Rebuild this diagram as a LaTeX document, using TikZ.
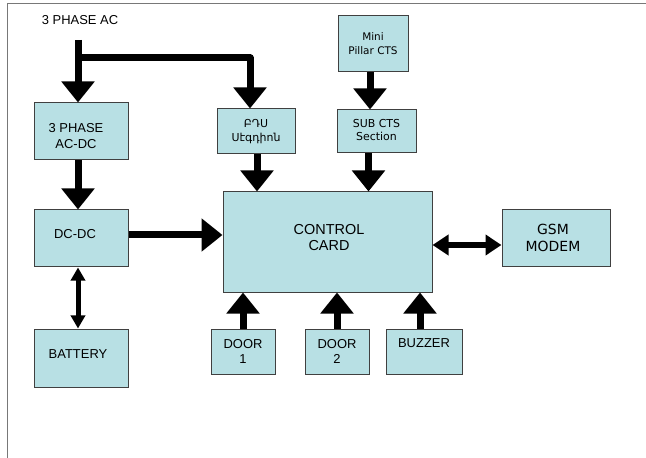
\documentclass[tikz,border=0pt]{standalone}
\usepackage{fontspec}
\setmainfont{Liberation Sans}
\newfontfamily\dv{DejaVu Sans}
\newfontfamily\armfont[Script=Armenian]{DejaVu Sans}
\usetikzlibrary{arrows.meta}
\definecolor{boxfill}{RGB}{184,224,228}
\definecolor{boxline}{RGB}{64,64,64}
\definecolor{framegray}{RGB}{120,120,120}
\begin{document}
\begin{tikzpicture}[x=1bp,y=-1bp,
  box/.style={draw=boxline, line width=1bp, fill=boxfill, inner sep=0pt},
  txt/.style={align=center, inner sep=0pt, font=\fontsize{13}{16}\selectfont},
  fat/.style={line width=7bp, line join=round, -{Triangle[length=21bp,width=32bp]}},
  fatdbl/.style={line width=6bp, {Triangle[length=16bp,width=20bp]}-{Triangle[length=16bp,width=20bp]}},
  thindbl/.style={line width=5bp, {Triangle[length=13bp,width=14bp]}-{Triangle[length=13bp,width=14bp]}}]
\useasboundingbox (0,0) rectangle (646,458);
\fill[white] (0,0) rectangle (646,458);
% frame
\draw[framegray, line width=1.5bp] (7.7,458) -- (7.7,3.5) -- (646,3.5);

% label
\node[txt] (acin-lbl) at (80,20) {3 PHASE AC};

% boxes
\node[box, minimum width=94bp, minimum height=57bp,
  label={[txt, xshift=-5bp, yshift=-4.5bp]center:3 PHASE\\AC-DC}] (acdc) at (81,131.5) {};
\node[box, minimum width=78bp, minimum height=45bp,
  label={[txt, font=\armfont\fontsize{11}{14}\selectfont]center:ԲԴՍ\\Սէգդիոն}] (bds) at (256,131.5) {};
\node[box, minimum width=70bp, minimum height=56bp,
  label={[txt, font=\dv\fontsize{10.5}{14}\selectfont]center:Mini\\Pillar CTS}] (mini) at (373,44) {};
\node[box, minimum width=79bp, minimum height=43bp,
  label={[txt, yshift=1.5bp, font=\dv\fontsize{11}{12.5}\selectfont]center:SUB CTS\\Section}] (sub) at (376.5,131.5) {};
\node[box, minimum width=209bp, minimum height=100bp,
  label={[txt, xshift=1.5bp, yshift=4.5bp, font=\fontsize{14.5}{17}\selectfont]center:CONTROL\\CARD}] (ctrl) at (327.5,242) {};
\node[box, minimum width=94bp, minimum height=57bp,
  label={[txt, xshift=-6bp, yshift=4.5bp]center:DC-DC}] (dcdc) at (81,238.5) {};
\node[box, minimum width=108bp, minimum height=57bp,
  label={[txt, xshift=-3bp, yshift=1bp, font=\dv\fontsize{14}{17}\selectfont]center:GSM\\MODEM}] (gsm) at (556,238.5) {};
\node[box, minimum width=94bp, minimum height=58bp,
  label={[txt, xshift=-3bp, yshift=4bp]center:BATTERY}] (batt) at (81,358) {};
\node[box, minimum width=64bp, minimum height=45bp,
  label={[txt]center:DOOR\\1}] (door1) at (243,351.5) {};
\node[box, minimum width=64bp, minimum height=45bp,
  label={[txt]center:DOOR\\2}] (door2) at (337,351.5) {};
\node[box, minimum width=76bp, minimum height=45bp,
  label={[txt, yshift=8.5bp]center:BUZZER}] (buzz) at (424,351.5) {};

% connectors
\coordinate (acin) at (78,40);
\coordinate (br) at (78,58);
\draw[fat] (acin) -- (acin |- acdc.north);
\draw[fat] (br) -| ([xshift=-6bp]bds.north);
\draw[fat] (acin |- acdc.south) -- (acin |- dcdc.north);
\draw[fat] ([xshift=1bp]bds.south) -- ([xshift=1bp]bds.south |- ctrl.north);
\draw[fat] ([xshift=-3bp]mini.south) -- ([xshift=-3bp]mini.south |- sub.north);
\draw[fat] ([xshift=-8bp]sub.south) -- ([xshift=-8bp]sub.south |- ctrl.north);
\draw[fat] ([yshift=3.5bp]dcdc.east) -- ([yshift=3.5bp]dcdc.east -| ctrl.west);
\draw[fat] (door1.north) -- (door1.north |- ctrl.south);
\draw[fat] (door2.north) -- (door2.north |- ctrl.south);
\draw[fat] ([xshift=-4bp]buzz.north) -- ([xshift=-4bp]buzz.north |- ctrl.south);
\draw[fatdbl] ([yshift=-3bp]ctrl.east) -- ([yshift=-3bp]ctrl.east -| gsm.west);
\draw[thindbl] (acin |- dcdc.south) -- (acin |- batt.north);
\end{tikzpicture}
\end{document}
